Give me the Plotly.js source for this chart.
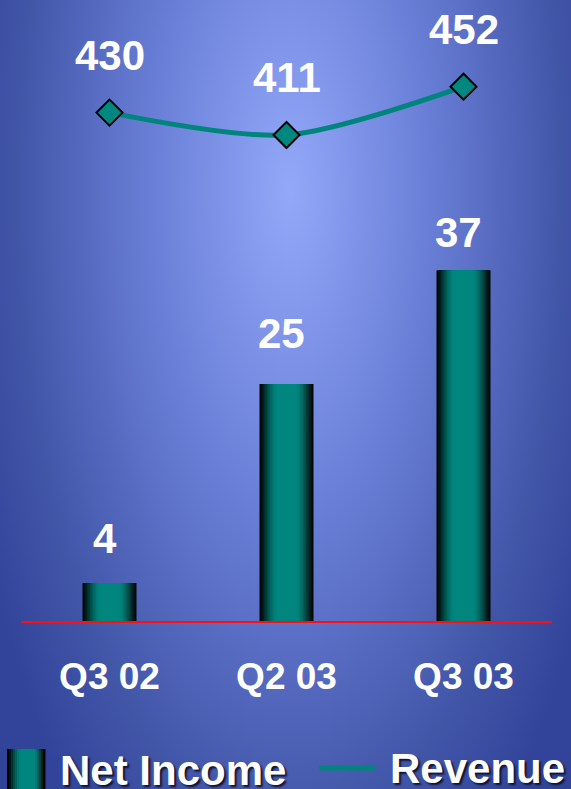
<!DOCTYPE html>
<html>
<head>
<meta charset="utf-8">
<script src="https://cdn.plot.ly/plotly-3.0.1.min.js"></script>
<style>
  html, body { margin: 0; padding: 0; width: 571px; height: 789px; overflow: hidden; }
  body {
    background: radial-gradient(ellipse 340px 800px at 290px 190px,
      #93a8f8 0%, #6a80d8 40%, #4256a8 80%, #32449a 100%);
  }
  #chart { width: 571px; height: 789px; }
</style>
</head>
<body>
<div id="chart"></div>
<script>
// ---- data ----
const quarters = ['Q3 02', 'Q2 03', 'Q3 03'];
const netIncome = [4, 25, 37];
const revenue = [430, 411, 452];
const seriesNames = ['Net Income', 'Revenue'];

// ---- geometry helpers ----
const W = 571, H = 789;
const M = { l: 21, r: 19, t: 0, b: 168 };
const plotW = W - M.l - M.r, plotH = H - M.t - M.b;
const px = x => (x - M.l) / plotW;          // pixel -> paper x
const py = y => (H - M.b - y) / plotH;      // pixel -> paper y

const FONT = 'Arial, "Liberation Sans", sans-serif';
const TEAL = [0, 134, 126];
const LINE_TEAL = '#00857d';
const BAR_W = 0.305;                        // bar width in category units
const barLabelLift = [45, 51, 38];          // label distance above bar tops (px)

// cylinder-like shading: d = 0 at centre, 1 at the edge
function shade(d) {
  let f = d < 0.3 ? 1 : Math.cos((d - 0.3) / 0.7 * Math.PI / 2);
  f = Math.max(0, Math.pow(Math.max(f, 0), 1.2));
  return 'rgb(' + TEAL.map(c => Math.round(c * f)).join(',') + ')';
}

// bars: overlaid layers of decreasing width give the horizontal gradient
const traces = [];
const N = 18;
for (let k = 0; k < N; k++) {
  const dOuter = 1 - k / N;
  const dMid = 1 - (k + 0.5) / N;
  traces.push({
    type: 'bar',
    x: quarters,
    y: netIncome,
    width: BAR_W * dOuter,
    marker: { color: shade(dMid), line: { width: 0 } },
    name: seriesNames[0],
    showlegend: false,
    hoverinfo: 'skip'
  });
}

// revenue line on its own scale
traces.push({
  type: 'scatter',
  x: quarters,
  y: revenue,
  yaxis: 'y2',
  mode: 'lines+markers',
  name: seriesNames[1],
  line: { color: LINE_TEAL, width: 5, shape: 'spline', smoothing: 0.8 },
  marker: { symbol: 'diamond', size: 20, color: '#00877f', line: { color: '#000', width: 2 } },
  showlegend: false
});

const labelFont = { family: FONT, size: 42, color: '#ffffff', weight: 'bold' };
const annotations = [];

netIncome.forEach((v, i) => annotations.push({
  x: quarters[i], y: v, xref: 'x', yref: 'y',
  text: String(v), showarrow: false,
  xshift: -5, yshift: barLabelLift[i], yanchor: 'middle',
  font: labelFont
}));

revenue.forEach((v, i) => annotations.push({
  x: quarters[i], y: v, xref: 'x', yref: 'y2',
  text: String(v), showarrow: false,
  yshift: 57, yanchor: 'middle',
  font: labelFont
}));

// legend: text entries
const legendFont = {
  family: FONT, size: 42, color: '#ffffff', weight: 'bold',
  shadow: '2px 2px 2px rgba(10,15,45,0.95)'
};
annotations.push({
  xref: 'paper', yref: 'paper', x: px(58), y: py(770),
  xanchor: 'left', yanchor: 'middle', showarrow: false,
  text: seriesNames[0], font: legendFont
});
annotations.push({
  xref: 'paper', yref: 'paper', x: px(388), y: py(768),
  xanchor: 'left', yanchor: 'middle', showarrow: false,
  text: seriesNames[1], font: legendFont
});

// legend: shaded swatch for the bars and a line sample for revenue
const shapes = [];
const swL = 7, swR = 45, swT = 749, swB = 800, strips = 19, peak = 0.55;
for (let s = 0; s < strips; s++) {
  const t = (s + 0.5) / strips;
  const d = t < peak ? (peak - t) / peak : (t - peak) / (1 - peak);
  shapes.push({
    type: 'rect', xref: 'paper', yref: 'paper', layer: 'above',
    x0: px(swL + (swR - swL) * s / strips),
    x1: px(swL + (swR - swL) * (s + 1) / strips + 0.5),
    y0: py(swB), y1: py(swT),
    fillcolor: shade(Math.min(1, d * 1.05)), line: { width: 0 }
  });
}
shapes.push({
  type: 'line', xref: 'paper', yref: 'paper',
  x0: px(319), x1: px(375), y0: py(768), y1: py(768),
  line: { color: LINE_TEAL, width: 5 }
});

const layout = {
  width: W, height: H,
  margin: M,
  paper_bgcolor: 'rgba(0,0,0,0)',
  plot_bgcolor: 'rgba(0,0,0,0)',
  barmode: 'overlay',
  showlegend: false,
  xaxis: {
    type: 'category', range: [-0.5, 2.5],
    showline: true, linecolor: '#ff1010', linewidth: 2,
    showgrid: false, zeroline: false, ticks: '',
    tickfont: { family: FONT, size: 37, color: '#ffffff', weight: 'bold' },
    ticklabelstandoff: 22,
    fixedrange: true
  },
  yaxis: { range: [0, plotH / 9.48], visible: false, fixedrange: true },
  yaxis2: { overlaying: 'y', range: [-1.6, 525.6], visible: false, fixedrange: true },
  annotations: annotations,
  shapes: shapes
};

Plotly.newPlot('chart', traces, layout, { staticPlot: true, displayModeBar: false });
</script>
</body>
</html>
